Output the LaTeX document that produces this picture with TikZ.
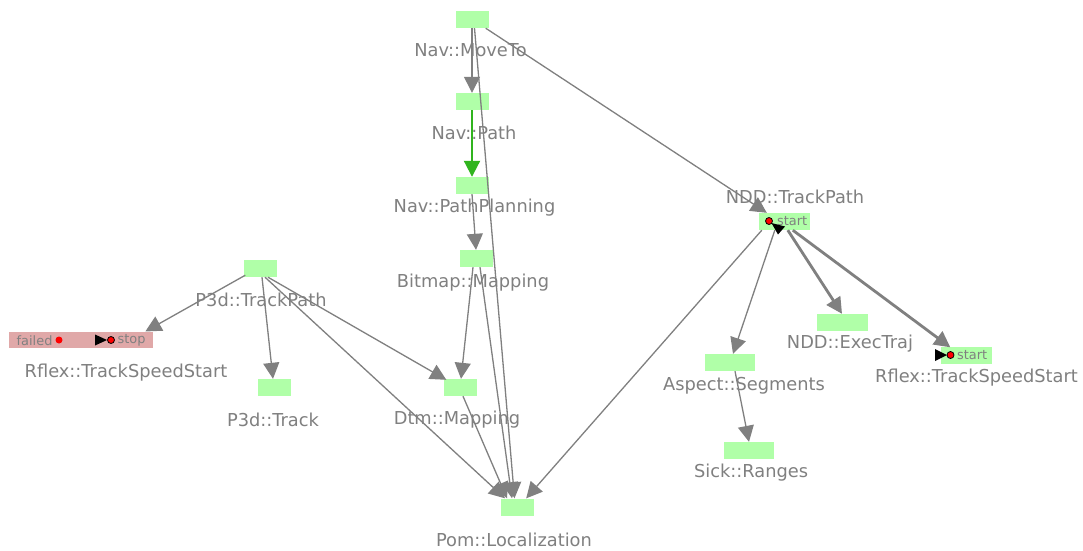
\documentclass[tikz,border=0pt]{standalone}
\usepackage{fontspec}
\setmainfont{DejaVu Sans}
\usetikzlibrary{arrows.meta,calc}
\definecolor{boxgreen}{RGB}{176,255,168}
\definecolor{boxred}{RGB}{224,168,168}
\definecolor{edgegray}{RGB}{128,128,128}
\definecolor{txtgray}{RGB}{128,128,128}
\definecolor{edgegreen}{RGB}{48,180,30}
\tikzset{
  comp/.style={fill=boxgreen, draw=none, inner sep=0pt, minimum width=33pt, minimum height=17pt},
  widecomp/.style={comp, minimum width=51pt},
  lbl/.style={text=txtgray, font=\fontsize{17.8}{18}\selectfont, inner sep=0pt, anchor=center},
  small/.style={text=txtgray, font=\fontsize{12.9}{13}\selectfont, inner sep=0pt},
  conn/.style={draw=edgegray, line width=1.3pt, -{Triangle[length=16pt,width=16pt]}},
  thickconn/.style={conn, line width=2.8pt},
  greenconn/.style={draw=edgegreen, line width=2pt, -{Triangle[length=16pt,width=16pt]}},
  portdot/.style={circle, fill=red, draw=black, line width=0.8pt, minimum size=7pt, inner sep=0pt},
}
\begin{document}
\begin{tikzpicture}[x=1pt,y=-1pt]
\useasboundingbox[fill=white] (0,0) rectangle (1083,550);
% boxes
\node[comp] (moveto) at (472,19.5) {};
\node[comp] (path) at (472,101.5) {};
\node[comp] (pplan) at (472,185.5) {};
\node[comp] (bitmap) at (476.5,258.5) {};
\node[comp] (p3dtp) at (260,268.5) {};
\node[fill=boxred, inner sep=0pt, minimum width=143.7pt, minimum height=16.7pt] (rflexL) at (81,340) {};
\node[comp] (p3dtrack) at (274,387.5) {};
\node[comp] (dtm) at (460,387.5) {};
\node[comp] (pom) at (517.5,507) {};
\node[widecomp] (ndd) at (784.5,221.5) {};
\node[widecomp] (exec) at (842,322.5) {};
\node[widecomp] (rflexR) at (966,355) {};
\node[widecomp, minimum width=50pt] (aspect) at (730,362.5) {};
\node[widecomp, minimum width=50pt] (sick) at (749,450.5) {};
% labels
\node[lbl] (l1) at (470.5,50.5) {Nav::MoveTo};
\node[lbl] (l2) at (474,132.5) {Nav::Path};
\node[lbl] (l3) at (474.5,207.5) {Nav::PathPlanning};
\node[lbl] (l4) at (473,282.5) {Bitmap::Mapping};
\node[lbl] (l5) at (261,300) {P3d::TrackPath};
\node[lbl] (l6) at (126,372.5) {Rflex::TrackSpeedStart};
\node[lbl] (l7) at (273,420) {P3d::Track};
\node[lbl] (l8) at (457,420) {Dtm::Mapping};
\node[lbl] (l9) at (514,539.5) {Pom::Localization};
\node[lbl] (l10) at (795,197) {NDD::TrackPath};
\node[lbl] (l11) at (850,343.5) {NDD::ExecTraj};
\node[lbl] (l12) at (976.5,377.5) {Rflex::TrackSpeedStart};
\node[lbl] (l13) at (744,385.5) {Aspect::Segments};
\node[lbl] (l14) at (751,472.5) {Sick::Ranges};
% edges
\draw[conn] (moveto.south) -- (path.north);
\draw[conn] ($(moveto.south)+(2.5,0)$) -- ($(pom.north)+(-3,0)$);
\draw[conn] ($(moveto.south east)+(-3,0)$) -- ($(ndd.north west)+(8,0)$);
\draw[greenconn] (path.south) -- (pplan.north);
\draw[conn] (pplan.south) -- ($(bitmap.north)+(-0.5,0)$);
\draw[conn] ($(bitmap.south)+(-3.5,0)$) -- ($(dtm.north)+(1,0)$);
\draw[conn] ($(bitmap.south)+(3.5,0)$) -- ($(pom.north)+(-5.5,0)$);
\draw[conn] ($(dtm.south)+(3,0)$) -- ($(pom.north)+(-10.5,0)$);
\draw[conn] ($(p3dtp.south west)+(2,-2)$) -- ($(rflexL.north east)+(-7.7,0)$);
\draw[conn] ($(p3dtp.south)+(2,0)$) -- ($(p3dtrack.north)+(-1,0)$);
\draw[conn] ($(p3dtp.south)+(8,0)$) -- ($(dtm.north west)+(3,1)$);
\draw[conn] ($(p3dtp.south)+(5,0)$) -- ($(pom.north)+(-12.5,0)$);
\draw[conn] ($(ndd.south west)+(3,0)$) -- ($(pom.north east)+(-8,0)$);
\draw[conn] ($(ndd.south west)+(16,0)$) -- ($(aspect.north)+(3,0)$);
\draw[thickconn] ($(ndd.south west)+(29,0)$) -- (exec.north);
\draw[thickconn] ($(ndd.south west)+(34,0)$) -- ($(rflexR.north west)+(10,1)$);
\draw[conn] ($(aspect.south)+(5,0)$) -- (sick.north);
% ports
\node[portdot] (nddport) at (769,221) {};
\node[small, anchor=west] (nddstart) at (777,221) {start};
\fill[black] (771.5,223) -- (785,226.5) -- (778,234.5) -- cycle;
\node[portdot] (rport) at (950.5,355) {};
\fill[black] (935,349) -- (947,355) -- (935,361) -- cycle;
\node[small, anchor=west] (rstart) at (957,355.5) {start};
\node[small, anchor=west] (failed) at (16.5,340.5) {failed};
\node[circle, fill=red, minimum size=7pt, inner sep=0pt] (faildot) at (59,340) {};
\fill[black] (95,334.5) -- (107,340) -- (95,345.5) -- cycle;
\node[portdot] (stopdot) at (111,340) {};
\node[small, anchor=west] (stop) at (117.5,340.5) {stop};
\end{tikzpicture}
\end{document}
